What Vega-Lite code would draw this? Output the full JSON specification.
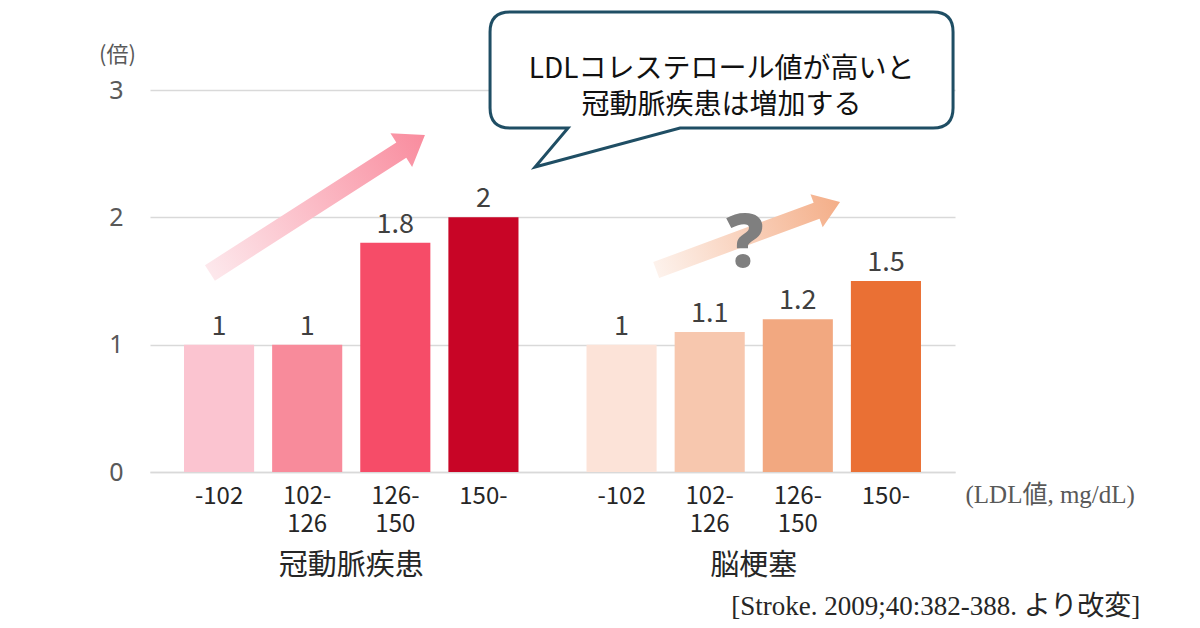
{
  "$schema": "https://vega.github.io/schema/vega-lite/v6.json",
  "width": 805,
  "height": 382,
  "autosize": {"type": "none"},
  "padding": {"left": 150, "top": 90, "right": 245, "bottom": 156},
  "background": "#ffffff",
  "config": {"view": {"stroke": null}, "font": "Noto Sans CJK JP"},
  "resolve": {"scale": {"x": "independent"}},
  "layer": [
    {
      "data": {
        "values": [
          {"group": "冠動脈疾患", "range": "-102", "label": "-102", "value": 1, "id": "c1"},
          {"group": "冠動脈疾患", "range": "102-126", "label": "102-\n126", "value": 1, "id": "c2"},
          {"group": "冠動脈疾患", "range": "126-150", "label": "126-\n150", "value": 1.8, "id": "c3"},
          {"group": "冠動脈疾患", "range": "150-", "label": "150-", "value": 2, "id": "c4"},
          {"group": "脳梗塞", "range": "-102", "label": "-102", "value": 1, "id": "s1"},
          {"group": "脳梗塞", "range": "102-126", "label": "102-\n126", "value": 1.1, "id": "s2"},
          {"group": "脳梗塞", "range": "126-150", "label": "126-\n150", "value": 1.2, "id": "s3"},
          {"group": "脳梗塞", "range": "150-", "label": "150-", "value": 1.5, "id": "s4"}
        ]
      },
      "encoding": {
        "x": {
          "field": "group",
          "type": "nominal",
          "sort": ["冠動脈疾患", "脳梗塞"],
          "scale": {"paddingInner": 0, "paddingOuter": 0},
          "axis": {
            "title": "(LDL値, mg/dL)",
            "titleX": 815,
            "titleY": 22,
            "titleAlign": "left",
            "titleBaseline": "middle",
            "titleAngle": 0,
            "titleFontSize": 25,
            "titleFontWeight": "normal",
            "titleColor": "#595959",
            "titleFont": "Liberation Serif, Noto Sans CJK JP",
            "labelFontSize": 29,
            "labelColor": "#262626",
            "labelBaseline": "middle",
            "labelPadding": 93,
            "labelAngle": 0,
            "ticks": false,
            "tickSize": 0,
            "domainColor": "#D9D9D9",
            "domainWidth": 1.3,
            "grid": false
          }
        },
        "xOffset": {
          "field": "range",
          "type": "nominal",
          "sort": ["-102", "102-126", "126-150", "150-"],
          "scale": {"paddingInner": 0.2045, "paddingOuter": 0.386}
        }
      },
      "layer": [
        {
          "mark": {"type": "bar"},
          "encoding": {
            "y": {
              "field": "value",
              "type": "quantitative",
              "scale": {"domain": [0, 3], "nice": false},
              "axis": {
                "title": "(倍)",
                "titleAngle": 0,
                "titleX": -33,
                "titleY": -36,
                "titleAlign": "center",
                "titleBaseline": "middle",
                "titleFontSize": 22,
                "titleFontWeight": "normal",
                "titleColor": "#595959",
                "values": [0, 1, 2, 3],
                "format": "d",
                "labelFont": "Noto Sans",
                "labelFontSize": 25,
                "labelColor": "#595959",
                "labelPadding": 27,
                "ticks": false,
                "tickSize": 0,
                "domain": false,
                "grid": true,
                "gridColor": "#D9D9D9",
                "gridWidth": 1.3
              }
            },
            "color": {
              "field": "id",
              "type": "nominal",
              "scale": {
                "domain": ["c1", "c2", "c3", "c4", "s1", "s2", "s3", "s4"],
                "range": ["#FBC4D0", "#F88B9B", "#F64C68", "#C80526", "#FCE3D8", "#F7C7AE", "#F2A880", "#EA7034"]
              },
              "legend": null
            }
          }
        },
        {
          "mark": {"type": "text", "baseline": "alphabetic", "dy": -10, "fontSize": 27, "fill": "#404040"},
          "encoding": {
            "y": {"field": "value", "type": "quantitative"},
            "text": {"field": "value", "type": "quantitative"}
          }
        },
        {
          "mark": {"type": "text", "baseline": "top", "lineBreak": "\n", "fontSize": 24, "lineHeight": 28, "fill": "#262626"},
          "encoding": {
            "y": {"datum": -0.1, "type": "quantitative"},
            "text": {"field": "label", "type": "nominal"}
          }
        }
      ]
    },
    {
      "data": {"values": [{"note": "annotation"}]},
      "layer": [
        {
          "mark": {
            "type": "point",
            "shape": "M -0.072 1 L -0.072 -0.78 L -0.157 -0.78 L 0 -1 L 0.157 -0.78 L 0.072 -0.78 L 0.072 1 Z",
            "size": 65280,
            "angle": 57.3,
            "filled": true,
            "opacity": 1,
            "strokeWidth": 0,
            "fill": {
              "gradient": "linear",
              "x1": 0, "y1": 1, "x2": 0, "y2": 0,
              "stops": [{"offset": 0, "color": "#FDE8EC"}, {"offset": 1, "color": "#F98C9E"}]
            }
          },
          "encoding": {
            "x": {"datum": 0.916, "type": "quantitative", "scale": {"domain": [0.5, 2.5], "nice": false, "zero": false}, "axis": null},
            "y": {"datum": 2.105, "type": "quantitative"}
          }
        },
        {
          "mark": {
            "type": "point",
            "shape": "M -0.087 1 L -0.087 -0.745 L -0.18 -0.745 L 0 -1 L 0.18 -0.745 L 0.087 -0.745 L 0.087 1 Z",
            "size": 38416,
            "angle": 69.7,
            "filled": true,
            "opacity": 1,
            "strokeWidth": 0,
            "fill": {
              "gradient": "linear",
              "x1": 0, "y1": 1, "x2": 0, "y2": 0,
              "stops": [{"offset": 0, "color": "#FDF2EC"}, {"offset": 1, "color": "#F4AE88"}]
            }
          },
          "encoding": {
            "x": {"datum": 1.986, "type": "quantitative"},
            "y": {"datum": 1.853, "type": "quantitative"}
          }
        },
        {
          "mark": {"type": "text", "text": "?", "fontSize": 74, "fontWeight": 900, "font": "Noto Sans", "fill": "#7F7F7F", "baseline": "alphabetic", "align": "center"},
          "encoding": {
            "x": {"datum": 1.978, "type": "quantitative"},
            "y": {"datum": 1.61, "type": "quantitative"}
          }
        },
        {
          "mark": {
            "type": "point",
            "shape": "M -2.115 -0.58 L 2.115 -0.58 Q 2.315 -0.58 2.315 -0.38 L 2.315 0.38 Q 2.315 0.58 2.115 0.58 L -0.415 0.58 L -1.865 0.97 L -1.535 0.58 L -2.115 0.58 Q -2.315 0.58 -2.315 0.38 L -2.315 -0.38 Q -2.315 -0.58 -2.115 -0.58 Z",
            "size": 40000,
            "filled": false,
            "opacity": 1,
            "fill": "#ffffff",
            "fillOpacity": 1,
            "stroke": "#1F4E64",
            "strokeWidth": 3
          },
          "encoding": {
            "x": {"datum": 1.92, "type": "quantitative"},
            "y": {"datum": 3.157, "type": "quantitative"}
          }
        },
        {
          "mark": {"type": "text", "text": ["LDLコレステロール値が高いと", "冠動脈疾患は増加する"], "fontSize": 28, "lineHeight": 36, "fill": "#111111", "baseline": "middle", "align": "center"},
          "encoding": {
            "x": {"datum": 1.92, "type": "quantitative"},
            "y": {"datum": 3.157, "type": "quantitative"}
          }
        },
        {
          "mark": {"type": "text", "text": "[Stroke. 2009;40:382-388. より改変]", "fontSize": 27, "font": "Liberation Serif, Noto Sans CJK JP", "fill": "#262626", "baseline": "middle", "align": "right"},
          "encoding": {
            "x": {"datum": 2.96, "type": "quantitative"},
            "y": {"datum": -1.06, "type": "quantitative"}
          }
        }
      ]
    }
  ]
}
